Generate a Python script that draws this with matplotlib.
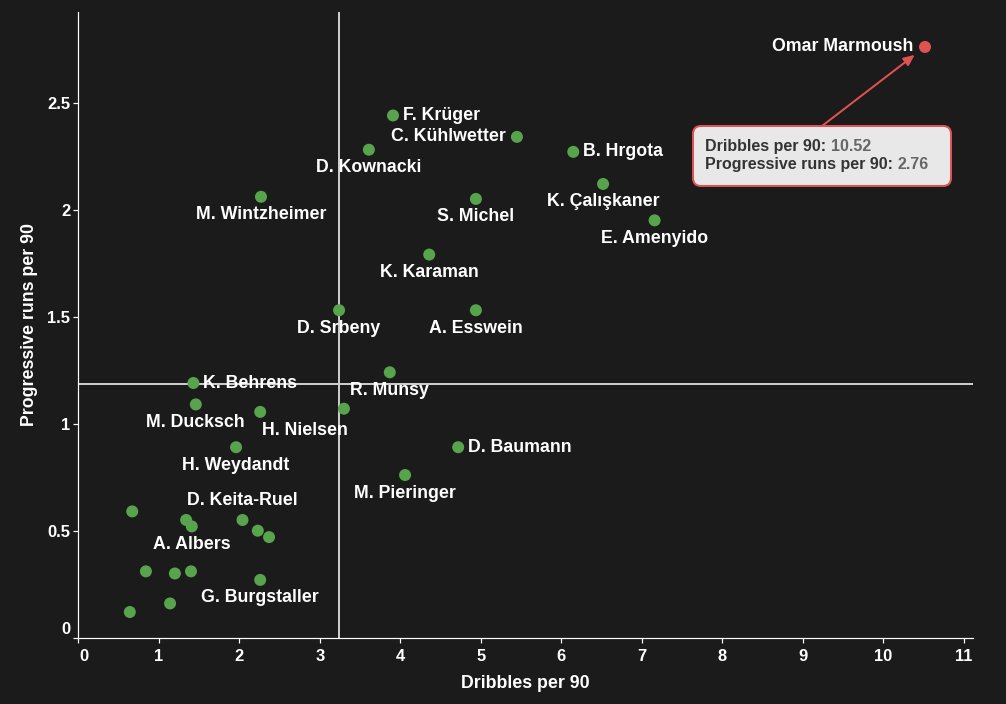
import matplotlib
matplotlib.use("Agg")
import matplotlib.pyplot as plt
from matplotlib.patches import FancyBboxPatch
from matplotlib import transforms

# ---------------- data ----------------
players = ["Omar Marmoush", "F. Krüger", "C. Kühlwetter", "D. Kownacki", "B. Hrgota",
           "K. Çalışkaner", "M. Wintzheimer", "S. Michel", "E. Amenyido", "K. Karaman",
           "D. Srbeny", "A. Esswein", "R. Munsy", "K. Behrens", "M. Ducksch",
           "H. Nielsen", "", "D. Baumann", "H. Weydandt", "M. Pieringer",
           "", "", "A. Albers", "D. Keita-Ruel", "", "",
           "", "", "", "G. Burgstaller", "", ""]
dribbles = [10.52, 3.91, 5.45, 3.61, 6.15,
            6.52, 2.27, 4.94, 7.16, 4.36,
            3.24, 4.94, 3.87, 1.43, 1.46,
            2.26, 3.30, 4.72, 1.96, 4.06,
            0.67, 1.34, 1.41, 2.04, 2.23, 2.37,
            0.84, 1.20, 1.40, 2.26, 1.14, 0.64]
prog_runs = [2.76, 2.44, 2.34, 2.28, 2.27,
             2.12, 2.06, 2.05, 1.95, 1.79,
             1.53, 1.53, 1.24, 1.19, 1.09,
             1.055, 1.07, 0.89, 0.89, 0.76,
             0.59, 0.55, 0.52, 0.55, 0.50, 0.47,
             0.31, 0.30, 0.31, 0.27, 0.16, 0.12]
highlight = "Omar Marmoush"
median_x = 3.24
median_y = 1.187
x_ticks = [0, 1, 2, 3, 4, 5, 6, 7, 8, 9, 10, 11]
y_ticks = [0, 0.5, 1, 1.5, 2, 2.5]
y_tick_labels = ["0", "0.5", "1", "1.5", "2", "2.5"]

# ---------------- style ----------------
BG = "#1b1b1b"
GREEN = "#57a44d"
RED = "#e05252"
FONT = "Liberation Sans"
LABEL_FS = 17.8
TICK_FS = 16.5
TIP_FS = 16

# label placement: (dx px, dy px, ha); default is centred below
placement = {
    "Omar Marmoush": (-12, 0, "right"),
    "F. Krüger": (10, 0, "left"),
    "C. Kühlwetter": (-11, 0, "right"),
    "B. Hrgota": (10, 0, "left"),
    "K. Behrens": (10, 0, "left"),
    "D. Baumann": (10, 0, "left"),
    "D. Keita-Ruel": (0, 19, "center"),
    "H. Nielsen": (45, -19, "center"),
}

DPI = 72
fig = plt.figure(figsize=(1006 / DPI, 704 / DPI), dpi=DPI, facecolor=BG)
ax = fig.add_axes([78.3 / 1006, 1 - 637.7 / 704, (973.3 - 78.3) / 1006, (637.7 - 12.3) / 704])
ax.set_facecolor(BG)
ax.set_xlim(0, 11.12)
ax.set_ylim(0, 2.922)

for s in ["top", "right"]:
    ax.spines[s].set_visible(False)
for s in ["left", "bottom"]:
    ax.spines[s].set_color("white")
    ax.spines[s].set_linewidth(1.2)

# median lines
ax.axvline(median_x, color="#cccccc", lw=2, zorder=1)
ax.axhline(median_y, color="#cccccc", lw=2, zorder=1)

colors = [RED if p == highlight else GREEN for p in players]
ax.scatter(dribbles, prog_runs, s=144, c=colors, edgecolors="none", zorder=3)

for name, x, y in zip(players, dribbles, prog_runs):
    if not name:
        continue
    dx, dy, ha = placement.get(name, (0, -18, "center"))
    ax.annotate(name, (x, y), xytext=(dx, dy), textcoords="offset pixels",
                ha=ha, va="center", color="white", fontsize=LABEL_FS,
                fontweight="bold", family=FONT, zorder=4)

ax.set_xticks(x_ticks)
ax.set_xticklabels([str(t) for t in x_ticks])
ax.set_yticks(y_ticks)
ax.set_yticklabels(y_tick_labels)
ax.tick_params(colors="white", length=5, width=1.2, direction="out")
ax.tick_params(axis="x", pad=6)
ax.tick_params(axis="y", pad=3)
for lab in ax.get_xticklabels() + ax.get_yticklabels():
    lab.set_fontsize(TICK_FS)
    lab.set_fontweight("bold")
    lab.set_family(FONT)
    lab.set_color("white")
# first labels nudged inward, as in the reference
x0 = ax.get_xticklabels()[0]
x0.set_transform(x0.get_transform() + transforms.ScaledTranslation(6 / DPI, 0, fig.dpi_scale_trans))
y0 = ax.get_yticklabels()[0]
y0.set_transform(y0.get_transform() + transforms.ScaledTranslation(0, 10 / DPI, fig.dpi_scale_trans))

ax.set_xlabel("Dribbles per 90", color="white", fontsize=LABEL_FS, fontweight="bold", family=FONT)
ax.set_ylabel("Progressive runs per 90", color="white", fontsize=LABEL_FS, fontweight="bold", family=FONT)
ax.xaxis.set_label_coords(0.5, (637.7 - 684) / 625.4)
ax.xaxis.label.set_va("center")
ax.yaxis.set_label_coords((30 - 78.3) / 895, 0.5)
ax.yaxis.label.set_va("center")

# ---------------- tooltip ----------------
hi = players.index(highlight)
hx, hy = dribbles[hi], prog_runs[hi]


class _Anchor(transforms.Transform):
    input_dims = output_dims = 2

    def transform_non_affine(self, values):
        px, py = ax.transData.transform((hx, hy))
        return values + [px, py]


box = FancyBboxPatch((-232, -139), 258, 60, boxstyle="round,pad=0,rounding_size=8",
                     transform=_Anchor(), facecolor="#e8e8e8", edgecolor=RED, lw=2,
                     zorder=6, clip_on=False)
ax.add_artist(box)

lines = [("Dribbles per 90: ", f"{hx:.2f}", -100), ("Progressive runs per 90: ", f"{hy:.2f}", -118)]
for lab, val, yy in lines:
    t = ax.annotate(lab, (hx, hy), xytext=(-220, yy), textcoords="offset pixels",
                    ha="left", va="center", color="#333333", fontsize=TIP_FS,
                    fontweight="bold", family=FONT, zorder=7, annotation_clip=False)
    ax.annotate(val, xy=(1, 0.5), xycoords=t, ha="left", va="center",
                color="#666666", fontsize=TIP_FS, fontweight="bold", family=FONT,
                zorder=7, annotation_clip=False)

ax.annotate("", xy=(hx, hy), xytext=(-103, -79), textcoords="offset pixels",
            arrowprops=dict(arrowstyle="-|>,head_length=0.9,head_width=0.4", color=RED,
                            lw=2, shrinkA=0, shrinkB=13),
            zorder=5, annotation_clip=False)

fig.savefig("out.png", dpi=DPI, facecolor=BG)
